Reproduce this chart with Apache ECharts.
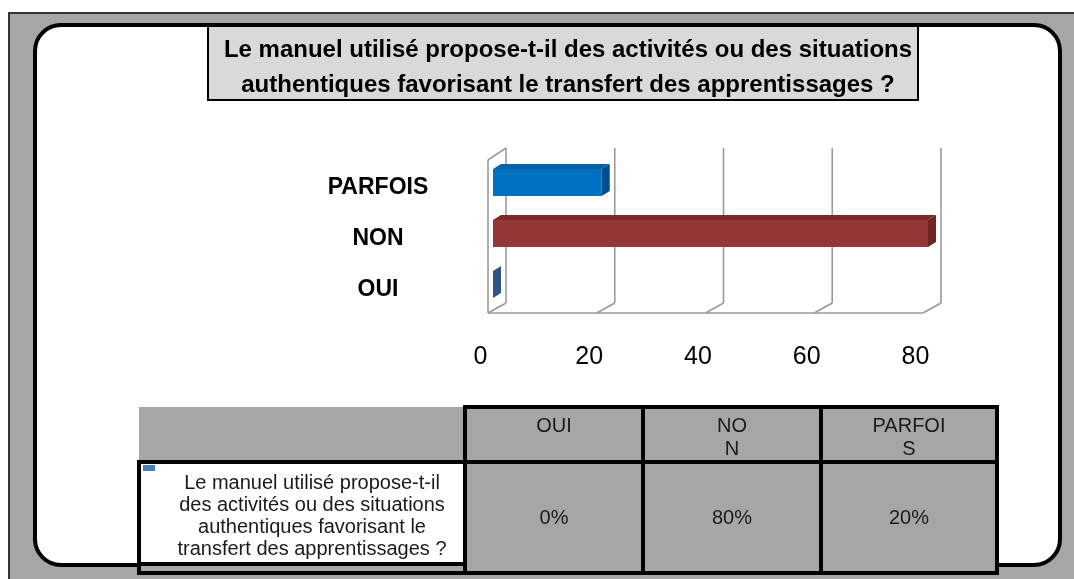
<!DOCTYPE html>
<html>
<head>
<meta charset="utf-8">
<script src="https://cdn.jsdelivr.net/npm/echarts@6/dist/echarts.min.js"></script>
<style>
  html, body { margin: 0; padding: 0; background: #fff; }
  #chart { width: 1074px; height: 579px; }
</style>
</head>
<body>
<div id="chart"></div>
<script>
// data
var categories = ['OUI', 'NON', 'PARFOIS'];
var values = [0, 80, 20];
var ticks = [0, 20, 40, 60, 80];
var tableHeaders = ['OUI', 'NO\nN', 'PARFOI\nS'];
var question = 'Le manuel utilisé propose-t-il\ndes activités ou des situations\nauthentiques favorisant le\ntransfert des apprentissages ?';
var titleText = 'Le manuel utilisé propose-t-il des activités ou des situations\nauthentiques favorisant le transfert des apprentissages ?';

// bar colours: front, top, side
var barColors = [
    ['#2f5486', '#2a4b78', '#2f5486'],
    ['#953735', '#7a2b29', '#6b2523'],
    ['#0070c0', '#0a62a6', '#004f8c']
];

var mychart = echarts.init(document.getElementById('chart'));

// 3d wall offsets
var DX = 18, DY = 12;

function renderWalls(params, api) {
    var cs = params.coordSys;
    var bottom = cs.y + cs.height - 2;
    var top = cs.y - 2;
    var x = api.coord([api.value(0), 0])[0];
    var line = { stroke: '#9a9a9a', lineWidth: 1.6 };
    var children = [
        { type: 'line', shape: { x1: x + DX, y1: top - DY, x2: x + DX, y2: bottom - DY + 2 }, style: line },
        { type: 'line', shape: { x1: x + DX, y1: bottom - DY + 2, x2: x, y2: bottom }, style: line }
    ];
    if (params.dataIndex === 0) {
        var xEnd = api.coord([ticks[ticks.length - 1], 0])[0];
        children.push({ type: 'line', shape: { x1: x, y1: top, x2: x, y2: bottom }, style: line });
        children.push({ type: 'line', shape: { x1: x, y1: top, x2: x + DX, y2: top - DY }, style: line });
        children.push({ type: 'line', shape: { x1: x, y1: bottom, x2: xEnd, y2: bottom }, style: line });
    }
    return { type: 'group', children: children };
}

function renderBar(params, api) {
    var i = api.value(1);
    var start = api.coord([0, i]);
    var end = api.coord([api.value(0), i]);
    var h = 27, dx = 8, dy = 5;
    var x0 = start[0] + 5, x1 = end[0] + 5;
    var cy = start[1] - 5;
    var t = cy - h / 2, b = cy + h / 2;
    var c = barColors[i];
    return {
        type: 'group',
        children: [
            { type: 'rect', shape: { x: x0, y: t, width: x1 - x0, height: h }, style: { fill: c[0] } },
            { type: 'polygon', shape: { points: [[x0, t], [x1, t], [x1 + dx, t - dy], [x0 + dx, t - dy]] }, style: { fill: c[1] } },
            { type: 'polygon', shape: { points: [[x1, t], [x1 + dx, t - dy], [x1 + dx, b - dy], [x1, b]] }, style: { fill: c[2] } }
        ]
    };
}

// table geometry
var colX = [139, 465, 643, 821, 997];
var rowY = [407, 462, 573];
var font = 'Liberation Sans, Arial, sans-serif';
var tableEls = [];
tableEls.push({ type: 'rect', z: 5, shape: { x: colX[0], y: rowY[0], width: colX[4] - colX[0], height: rowY[2] - rowY[0] }, style: { fill: '#a6a6a6' } });
tableEls.push({ type: 'rect', z: 6, shape: { x: colX[0], y: rowY[1], width: colX[1] - colX[0], height: 102 }, style: { fill: '#fff' } });
var blk = { stroke: '#000', lineWidth: 4 };
tableEls.push({ type: 'line', z: 7, shape: { x1: colX[1], y1: rowY[0], x2: colX[4], y2: rowY[0] }, style: blk });
tableEls.push({ type: 'line', z: 7, shape: { x1: colX[0] - 2, y1: rowY[1], x2: colX[4], y2: rowY[1] }, style: blk });
tableEls.push({ type: 'line', z: 7, shape: { x1: colX[0] - 2, y1: 564, x2: colX[1], y2: 564 }, style: blk });
tableEls.push({ type: 'line', z: 7, shape: { x1: colX[0] - 2, y1: rowY[2], x2: colX[4] + 2, y2: rowY[2] }, style: blk });
tableEls.push({ type: 'line', z: 7, shape: { x1: colX[0], y1: rowY[1], x2: colX[0], y2: rowY[2] }, style: blk });
for (var k = 1; k < colX.length; k++) {
    tableEls.push({ type: 'line', z: 7, shape: { x1: colX[k], y1: rowY[0] - 2, x2: colX[k], y2: rowY[2] }, style: blk });
}
tableEls.push({ type: 'rect', z: 8, shape: { x: 143, y: 465, width: 12, height: 6 }, style: { fill: '#4a7ebb' } });
tableEls.push({
    type: 'text', z: 8, x: (colX[0] + colX[1]) / 2 + 10, y: 516,
    style: { text: question, fontSize: 20, lineHeight: 22, fontFamily: font, fill: '#1a1a1a', align: 'center', verticalAlign: 'middle' }
});
for (var j = 0; j < categories.length; j++) {
    var cx = (colX[j + 1] + colX[j + 2]) / 2;
    tableEls.push({
        type: 'text', z: 8, x: cx, y: 415,
        style: { text: tableHeaders[j], fontSize: 20, lineHeight: 23, fontFamily: font, fill: '#1a1a1a', align: 'center', verticalAlign: 'top' }
    });
    tableEls.push({
        type: 'text', z: 8, x: cx, y: 518,
        style: { text: values[j] + '%', fontSize: 20, fontFamily: font, fill: '#1a1a1a', align: 'center', verticalAlign: 'middle' }
    });
}

option = {
    backgroundColor: '#fff',
    animation: false,
    title: {
        text: titleText,
        left: 563,
        top: 28,
        textAlign: 'center',
        textStyle: {
            fontFamily: 'Liberation Sans Narrow, Arial Narrow, Liberation Sans, sans-serif',
            fontWeight: 'bold',
            fontSize: 24,
            lineHeight: 35,
            color: '#000'
        }
    },
    graphic: [
        // outer grey frame
        { type: 'rect', z: -10, shape: { x: 9, y: 13, width: 1080, height: 580 }, style: { fill: '#a6a6a6', stroke: '#333', lineWidth: 2 } },
        // white rounded panel
        { type: 'rect', z: -9, shape: { x: 35, y: 25, width: 1025, height: 540, r: 26 }, style: { fill: '#fff', stroke: '#000', lineWidth: 4 } },
        // title box
        { type: 'rect', z: -8, shape: { x: 208, y: 26, width: 710, height: 74 }, style: { fill: '#d9d9d9', stroke: '#000', lineWidth: 2 } },
        { type: 'group', children: tableEls }
    ],
    grid: {
        left: 488,
        right: 151,
        top: 162,
        bottom: 264
    },
    xAxis: {
        type: 'value',
        min: 0,
        max: 80,
        interval: 20,
        splitLine: { show: false },
        axisLine: { show: false },
        axisTick: { show: false },
        axisLabel: {
            fontSize: 25,
            color: '#000',
            margin: 30,
            padding: [0, 15, 0, 0],
            fontFamily: font
        }
    },
    yAxis: {
        type: 'category',
        data: categories,
        axisLine: { show: false },
        axisTick: { show: false },
        axisLabel: {
            fontSize: 23,
            fontWeight: 'bold',
            color: '#000',
            align: 'center',
            margin: 110,
            fontFamily: font
        }
    },
    series: [
        {
            name: 'walls',
            type: 'custom',
            z: 1,
            silent: true,
            renderItem: renderWalls,
            data: ticks.map(function (t) { return [t]; })
        },
        {
            name: 'bars',
            type: 'custom',
            z: 3,
            renderItem: renderBar,
            encode: { x: 0, y: 1 },
            data: values.map(function (v, i) { return [v, i]; })
        }
    ]
};
mychart.setOption(option);
</script>
</body>
</html>
